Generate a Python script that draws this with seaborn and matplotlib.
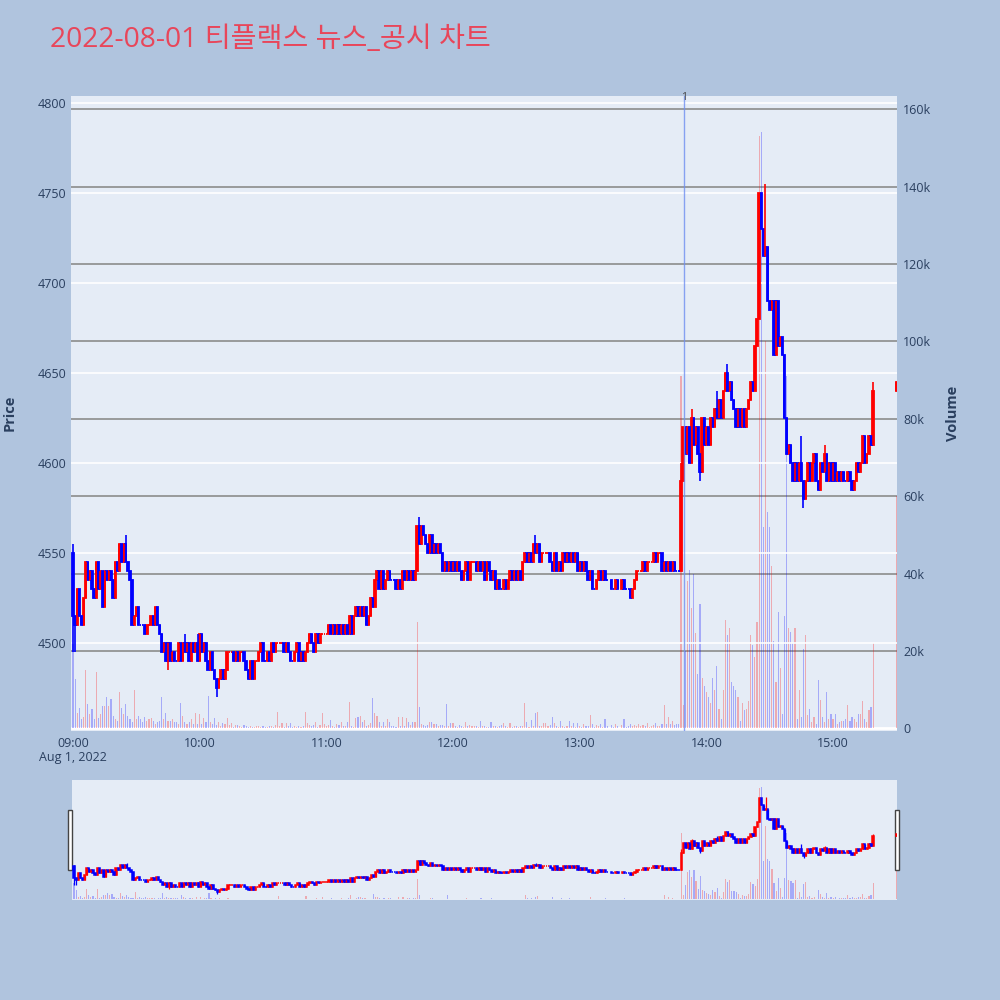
import numpy as np
import pandas as pd
import matplotlib
matplotlib.use("Agg")
import matplotlib.pyplot as plt
import matplotlib.transforms as mtransforms
from matplotlib.patches import Rectangle
import seaborn as sns

TITLE = "2022-08-01 티플랙스 뉴스_공시 차트"
DATE_LABEL = "Aug 1, 2022"
SESSION_START = "2022-08-01 09:00"

# 1-minute closes (None = no trade in that minute)
close_09 = [4515, 4510, 4530, 4515, 4510, 4525, 4545, 4535, 4540, 4530,
            4525, 4545, 4530, 4540, 4520, 4540, 4535, 4540, 4535, 4525,
            4545, 4540, 4555, 4545, 4555, 4545, 4540, 4535, 4510, 4515,
            4520, 4510, 4510, 4510, 4505, 4510, 4510, 4515, 4510, 4520,
            4510, 4505, 4495, 4500, 4490, 4500, 4490, 4495, 4490, 4490,
            4500, 4490, 4500, 4495, 4500, 4490, 4500, 4495, 4500, 4490]
close_10 = [4505, 4495, 4500, 4490, 4485, 4495, 4485, 4480, 4475, 4480,
            4485, 4480, 4485, 4495, 4495, 4495, 4490, 4495, 4490, 4495,
            4495, 4490, 4485, 4480, 4490, 4480, 4490, 4490, 4495, 4500,
            4490, 4490, 4495, 4490, 4500, 4495, 4500, 4500, 4500, 4500,
            4495, 4500, 4495, 4490, 4490, 4495, 4500, 4490, 4495, 4490,
            4495, 4500, 4505, 4500, 4495, 4505, 4500, 4505, 4505, 4505]
close_11 = [4505, 4510, 4505, 4510, 4505, 4510, 4505, 4510, 4505, 4510,
            4505, 4515, 4505, 4515, 4520, 4515, 4520, 4515, 4520, 4510,
            4515, 4525, 4520, 4535, 4540, 4530, 4540, 4530, 4535, 4540,
            4535, 4535, 4535, 4530, 4535, 4530, 4540, 4535, 4540, 4535,
            4540, 4535, 4540, 4565, 4555, 4565, 4560, 4555, 4550, 4560,
            4550, 4555, 4550, 4555, 4550, 4540, 4545, 4540, 4545, 4540]
close_12 = [4545, 4540, 4545, 4540, 4535, 4540, 4545, 4535, 4545, 4545,
            4545, 4540, 4545, 4540, 4545, 4535, 4545, 4540, 4535, 4540,
            4530, 4535, 4530, 4530, 4535, 4530, 4535, 4540, 4535, 4540,
            4535, 4540, 4535, 4545, 4550, 4545, 4550, 4545, 4555, 4550,
            4555, 4545, 4550, 4550, 4550, 4550, 4545, 4540, 4550, 4540,
            4545, 4540, 4550, 4545, 4550, 4545, 4550, 4545, 4550, 4540]
close_13 = [4545, 4540, 4545, 4540, 4535, 4540, 4530, 4530, 4535, 4540,
            4535, 4540, 4535, 4535, None, 4530, 4530, 4535, 4530, None,
            4535, 4530, 4530, 4530, 4525, 4530, 4535, 4540, 4540, 4540,
            4545, 4540, 4545, 4545, 4545, 4550, 4545, 4550, 4550, 4540,
            4545, 4540, 4545, 4540, 4545, 4540, 4540, 4540, 4590, 4620,
            4605, 4620, 4600, 4625, 4610, 4620, 4605, 4595, 4625, 4610]
close_14 = [4620, 4610, 4625, 4620, 4630, 4625, 4635, 4625, 4640, 4650,
            4640, 4645, 4635, 4630, 4620, 4630, 4620, 4630, 4620, 4630,
            4635, 4645, 4640, 4665, 4680, 4750, 4730, 4715, 4720, 4690,
            4685, 4690, 4660, 4690, 4665, 4670, 4660, 4625, 4605, 4610,
            4600, 4590, 4600, 4590, 4600, 4590, 4580, 4590, 4600, 4590,
            4600, 4605, 4590, 4585, 4600, 4595, 4605, 4590, 4600, 4590]
close_15 = [4600, 4590, 4595, 4590, 4595, 4590, 4590, 4595, 4590, 4585,
            4590, 4600, 4595, 4600, 4615, 4600, 4605, 4615, 4610, 4640]
first_open = 4550

# closing auction print
auction_time = "15:30"
auction_price = 4645
auction_volume = 60.0

# wick extremes outside the candle bodies
wick_times = ["09:00", "09:00", "09:01", "09:25", "09:45", "09:53", "09:59",
              "10:08", "11:44", "12:39", "13:48", "13:53", "13:57", "14:05",
              "14:10", "14:28", "14:45", "14:46", "14:56", "15:19"]
wick_prices = [4555, 4495, 4495, 4560, 4485, 4505, 4505,
               4470, 4570, 4560, 4600, 4630, 4590, 4640,
               4655, 4755, 4615, 4575, 4610, 4645]

# volume per minute, thousands of shares
vol_09 = [22.0, 12.7, 4.0, 5.3, 2.5, 3.0, 15.0, 6.2, 3.6, 4.9,
          2.3, 14.6, 2.7, 3.8, 5.8, 5.8, 8.2, 5.8, 7.5, 3.2,
          2.3, 1.8, 9.4, 5.3, 3.6, 6.2, 3.2, 2.3, 1.5, 10.0,
          2.3, 3.3, 2.3, 1.5, 2.8, 1.8, 2.3, 2.6, 1.8, 1.2,
          1.5, 2.0, 8.2, 2.3, 4.0, 1.8, 2.0, 2.3, 1.5, 1.5,
          1.2, 6.6, 3.2, 1.5, 1.2, 1.5, 2.3, 1.0, 4.0, 1.0]
vol_10 = [3.7, 1.0, 2.6, 1.5, 8.4, 1.7, 1.0, 2.6, 0.8, 1.5,
          0.5, 1.3, 1.0, 2.6, 0.8, 1.3, 0.4, 0.8, 0.9, 0.5,
          0.4, 0.8, 0.6, 0.4, 0.5, 0.4, 0.3, 0.5, 0.6, 0.4,
          0.5, 0.3, 0.4, 0.6, 0.5, 0.3, 0.8, 4.3, 0.5, 1.3,
          0.4, 1.3, 0.5, 1.3, 0.4, 0.6, 0.3, 0.5, 0.4, 0.6,
          4.3, 1.3, 0.9, 0.5, 0.9, 1.7, 0.3, 0.9, 3.9, 1.0]
vol_11 = [0.5, 0.8, 2.2, 0.6, 0.4, 1.1, 0.8, 1.7, 0.5, 0.6,
          1.7, 6.7, 0.6, 0.4, 2.6, 2.9, 3.2, 1.5, 2.1, 0.6,
          0.9, 1.3, 7.8, 3.9, 3.2, 1.5, 0.6, 1.5, 0.5, 2.3,
          1.5, 0.5, 0.6, 0.4, 2.9, 0.5, 3.0, 0.6, 2.6, 1.7,
          0.8, 1.7, 1.7, 27.4, 5.6, 1.2, 0.8, 0.6, 0.9, 1.7,
          1.7, 1.1, 1.0, 0.6, 0.9, 0.8, 0.5, 6.2, 0.6, 1.3]
vol_12 = [1.3, 0.6, 0.4, 0.8, 0.6, 0.4, 1.7, 0.5, 0.8, 0.6,
          0.5, 0.6, 0.4, 1.9, 0.6, 0.5, 0.4, 0.4, 1.7, 0.5,
          0.6, 0.4, 0.5, 0.9, 1.3, 0.5, 0.4, 1.3, 0.4, 0.6,
          0.5, 0.4, 0.6, 0.5, 6.5, 1.7, 0.4, 2.1, 0.6, 3.9,
          4.3, 0.5, 0.6, 1.3, 1.3, 0.5, 0.8, 3.0, 1.3, 0.5,
          0.4, 1.9, 0.6, 0.4, 0.6, 1.9, 0.5, 1.3, 0.4, 1.3]
vol_13 = [0.6, 0.4, 1.0, 0.6, 0.5, 3.5, 1.1, 0.4, 0.8, 0.5,
          1.1, 0.4, 2.3, 0.6, 0.0, 0.8, 0.4, 1.1, 0.5, 0.0,
          0.8, 2.3, 0.4, 0.5, 1.1, 0.6, 0.8, 0.5, 1.1, 0.6,
          0.8, 0.5, 1.3, 0.4, 0.6, 0.8, 1.3, 0.5, 0.6, 1.1,
          6.0, 1.0, 3.0, 1.0, 2.0, 0.8, 1.1, 1.0, 91.0, 6.0,
          20.0, 38.0, 41.0, 31.0, 40.0, 24.6, 14.0, 32.0, 13.0, 11.0]
vol_14 = [9.5, 8.0, 6.5, 13.0, 10.0, 16.0, 5.0, 2.5, 10.0, 28.0,
          24.0, 26.0, 12.0, 11.0, 10.0, 8.0, 2.0, 6.5, 4.7, 5.0,
          7.0, 24.0, 21.5, 18.5, 27.5, 153.0, 154.0, 52.0, 100.0, 56.0,
          52.0, 42.0, 22.5, 12.0, 30.0, 15.5, 3.8, 29.0, 91.0, 26.0,
          25.0, 22.0, 26.0, 2.5, 10.0, 3.0, 20.5, 24.0, 3.5, 5.0,
          1.5, 3.0, 1.2, 12.5, 7.4, 3.0, 1.5, 9.5, 2.5, 3.8]
vol_15 = [2.5, 3.8, 1.0, 1.6, 2.0, 2.0, 2.5, 6.0, 2.0, 3.0,
          2.5, 1.5, 3.8, 3.8, 7.0, 2.5, 1.5, 4.7, 5.5, 22.0]

# news / disclosure markers
news_times = ["13:49:30"]
news_labels = ["1"]

hour_ticks = ["09:00", "10:00", "11:00", "12:00", "13:00", "14:00", "15:00"]
price_ticks = [4500, 4550, 4600, 4650, 4700, 4750, 4800]
volume_ticks = [0, 20, 40, 60, 80, 100, 120, 140, 160]

UP = "#FF0000"
DOWN = "#0000FF"
PAPER = "#B0C4DE"
PLOT_BG = "#E5ECF6"
TEXT = "#2A3F5F"
TITLE_COLOR = "#E8465A"

sns.set_theme(style="white")
plt.rcParams["font.family"] = ["Open Sans", "Noto Sans CJK KR", "DejaVu Sans"]

start = pd.Timestamp(SESSION_START)


def minute_of(hhmm):
    return (pd.Timestamp(f"2022-08-01 {hhmm}") - start).total_seconds() / 60


# ---------------------------------------------------------------------------
# build the OHLCV table
# ---------------------------------------------------------------------------
closes = close_09 + close_10 + close_11 + close_12 + close_13 + close_14 + close_15
vols = vol_09 + vol_10 + vol_11 + vol_12 + vol_13 + vol_14 + vol_15
df = pd.DataFrame({"close": closes, "volume": vols}, dtype=float)
df["t"] = np.arange(len(df), dtype=float)
df.loc[len(df)] = [auction_price, auction_volume, minute_of(auction_time)]
df = df.dropna(subset=["close"]).reset_index(drop=True)

df["open"] = df["close"].shift(1).fillna(first_open)
df["high"] = df[["open", "close"]].max(axis=1)
df["low"] = df[["open", "close"]].min(axis=1)
for wt, wp in zip(wick_times, wick_prices):
    idx = df.index[df["t"] == minute_of(wt)]
    df.loc[idx, "high"] = np.maximum(df.loc[idx, "high"], wp)
    df.loc[idx, "low"] = np.minimum(df.loc[idx, "low"], wp)

direction = []
prev = False
for o, c in zip(df["open"], df["close"]):
    prev = True if c > o else (False if c < o else prev)
    direction.append(prev)
df["up"] = direction

XLIM = (-0.95, 390.3)
PRICE_LIM = (4451.3, 4804.0)
VOL_LIM = (-0.7, 163.4)


def draw(ax_v, ax_p, body_w, body_lw, wick_lw):
    ax_v.bar(df["t"], df["volume"], width=0.55, linewidth=0, alpha=0.28,
             color=np.where(df["up"], UP, DOWN))
    for flag, col in ((True, UP), (False, DOWN)):
        part = df[df["up"] == flag]
        ax_p.vlines(part["t"], part["low"], part["high"], color=col, lw=wick_lw)
        ax_p.bar(part["t"], part["close"] - part["open"], bottom=part["open"],
                 width=body_w, color=col, edgecolor=col, linewidth=body_lw)
    ax_v.set_xlim(*XLIM)
    ax_v.set_ylim(*VOL_LIM)
    ax_p.set_ylim(*PRICE_LIM)


fig = plt.figure(figsize=(10, 10), dpi=100, facecolor=PAPER)

# ---------------------------------------------------------------------------
# main panel: volume axis underneath, price axis on top
# ---------------------------------------------------------------------------
ax_vol = fig.add_axes([0.071, 0.269, 0.826, 0.635], facecolor=PLOT_BG)
ax_price = ax_vol.twinx()
ax_price.set_zorder(ax_vol.get_zorder() + 1)
ax_price.patch.set_visible(False)

for y in volume_ticks[1:]:
    ax_vol.axhline(y, color="#8C8C8C", lw=1.2, zorder=0)
ax_vol.axhline(0, color="white", lw=2, zorder=0)
for p in price_ticks:
    ax_price.axhline(p, color="white", lw=1.2, zorder=0)

draw(ax_vol, ax_price, body_w=0.65, body_lw=1.3, wick_lw=1.2)

for nt, lab in zip(news_times, news_labels):
    xm = minute_of(nt)
    ax_price.axvline(xm, color="#6F8FF0", lw=1, alpha=0.8, zorder=3)
    ax_price.text(xm, 0.998, lab, transform=mtransforms.blended_transform_factory(
        ax_price.transData, ax_price.transAxes), ha="center", va="center",
        fontsize=7.5, color="#444444")

ax_vol.set_xticks([minute_of(h) for h in hour_ticks])
ax_vol.set_xticklabels(hour_ticks)
ax_vol.yaxis.tick_right()
ax_vol.set_yticks(volume_ticks)
ax_vol.set_yticklabels(["0" if v == 0 else f"{v}k" for v in volume_ticks])
ax_vol.tick_params(axis="x", length=0, pad=4, labelsize=9, labelcolor=TEXT)
ax_vol.tick_params(axis="y", length=0, pad=4.5, labelsize=9, labelcolor=TEXT)

ax_price.yaxis.tick_left()
ax_price.set_yticks(price_ticks)
ax_price.tick_params(axis="y", length=0, pad=3.5, labelsize=9, labelcolor=TEXT)

for a in (ax_vol, ax_price):
    for s in a.spines.values():
        s.set_visible(False)
    a.grid(False)

ax_vol.text(minute_of("09:00"), -0.041, DATE_LABEL,
            transform=mtransforms.blended_transform_factory(ax_vol.transData, ax_vol.transAxes),
            ha="center", va="center", fontsize=9, color=TEXT)

# ---------------------------------------------------------------------------
# range slider
# ---------------------------------------------------------------------------
rs_vol = fig.add_axes([0.072, 0.100, 0.825, 0.120], facecolor=PLOT_BG)
rs_price = rs_vol.twinx()
rs_price.set_zorder(rs_vol.get_zorder() + 1)
rs_price.patch.set_visible(False)
draw(rs_vol, rs_price, body_w=0.65, body_lw=1.1, wick_lw=0.9)
for a in (rs_vol, rs_price):
    a.set_xticks([])
    a.set_yticks([])
    for s in a.spines.values():
        s.set_visible(False)
    a.grid(False)

for hx in (0.068, 0.895):
    fig.add_artist(Rectangle((hx, 0.130), 0.004, 0.060, transform=fig.transFigure,
                             facecolor="white", edgecolor="#444444", lw=1))

# ---------------------------------------------------------------------------
# titles and axis labels
# ---------------------------------------------------------------------------
fig.text(0.050, 0.960, TITLE, ha="left", va="center", fontsize=20.3, color=TITLE_COLOR)
fig.text(0.010, 0.587, "Price", rotation=90, ha="center", va="center",
         fontsize=10.5, fontweight="bold", color=TEXT)
fig.text(0.953, 0.587, "Volume", rotation=90, ha="center", va="center",
         fontsize=10.5, fontweight="bold", color=TEXT)

fig.savefig("out.png", dpi=100, facecolor=PAPER)
